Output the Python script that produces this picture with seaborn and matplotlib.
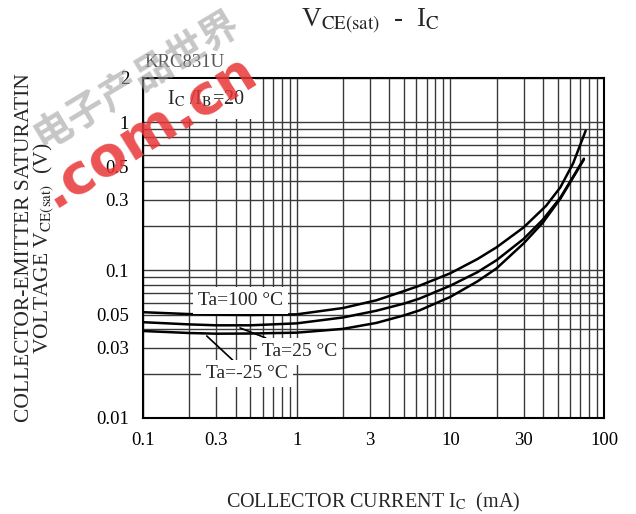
import numpy as np
import pandas as pd
import matplotlib
matplotlib.use("Agg")
import matplotlib.pyplot as plt
import seaborn as sns
from matplotlib.ticker import FixedLocator, FixedFormatter, LogLocator, NullFormatter

# ---- data ----
ic_100 = [0.1, 0.2, 0.3, 0.5, 1, 2, 3.3, 5, 6.3, 10, 15, 20, 30, 42, 52, 63, 76]
vce_100 = [0.052, 0.0505, 0.0500, 0.0498, 0.0503, 0.0555, 0.0626, 0.0723, 0.0786, 0.0954,
           0.119, 0.143, 0.195, 0.273, 0.364, 0.53, 0.88]
ic_25 = [0.1, 0.2, 0.3, 0.5, 1, 2, 3.3, 5, 6.3, 10, 15, 20, 30, 40, 52, 63, 74]
vce_25 = [0.0445, 0.0430, 0.0424, 0.0424, 0.0437, 0.0479, 0.0532, 0.0595, 0.0643, 0.0786,
          0.097, 0.117, 0.163, 0.22, 0.31, 0.43, 0.569]
ic_m25 = [0.1, 0.2, 0.3, 0.5, 1, 2, 3.3, 5, 6.3, 10, 15, 20, 30, 40, 52, 63, 74]
vce_m25 = [0.0388, 0.0376, 0.0372, 0.0373, 0.0378, 0.0401, 0.0440, 0.0495, 0.0535, 0.066,
           0.084, 0.103, 0.152, 0.21, 0.305, 0.425, 0.562]
labels = ["Ta=100 °C", "Ta=25 °C", "Ta=-25 °C"]

x_ticks = [0.1, 0.3, 1, 3, 10, 30, 100]
x_tick_labels = ["0.1", "0.3", "1", "3", "10", "30", "100"]
y_ticks = [0.01, 0.03, 0.05, 0.1, 0.3, 0.5, 1, 2]
y_tick_labels = ["0.01", "0.03", "0.05", "0.1", "0.3", "0.5", "1", "2"]

df = pd.DataFrame({
    "Ic": ic_100 + ic_25 + ic_m25,
    "Vce": vce_100 + vce_25 + vce_m25,
    "Ta": [labels[0]] * len(ic_100) + [labels[1]] * len(ic_25) + [labels[2]] * len(ic_m25),
})

sns.set_style("white")
plt.rcParams["font.family"] = ["Liberation Serif", "DejaVu Serif"]
plt.rcParams["mathtext.fontset"] = "stix"

fig = plt.figure(figsize=(6.36, 5.14), dpi=100)
ax = fig.add_axes([143 / 636, 1 - 418 / 514, 461 / 636, 340 / 514])

# watermark
fig.text(0.215, 0.845, "电子产品世界", family=["Noto Sans CJK SC", "DejaVu Sans"],
         fontsize=28, fontweight="bold", color="#a0a0a0", alpha=0.6, rotation=31,
         ha="center", va="center", zorder=0)
fig.text(0.235, 0.745, ".com.cn", family=["DejaVu Sans"], fontsize=40, fontweight="bold",
         color="#e83535", alpha=0.85, rotation=32, ha="center", va="center", zorder=0)

ax.set_xscale("log")
ax.set_yscale("log")
ax.set_xlim(0.1, 100)
ax.set_ylim(0.01, 2)
ax.patch.set_alpha(0)

sns.lineplot(data=df, x="Ic", y="Vce", hue="Ta", palette=["black"] * 3, sort=False,
             linewidth=1.8, legend=False, ax=ax, zorder=3)

ax.xaxis.set_major_locator(FixedLocator(x_ticks))
ax.xaxis.set_major_formatter(FixedFormatter(x_tick_labels))
ax.yaxis.set_major_locator(FixedLocator(y_ticks))
ax.yaxis.set_major_formatter(FixedFormatter(y_tick_labels))
ax.xaxis.set_minor_locator(LogLocator(base=10, subs=np.arange(1, 10)))
ax.yaxis.set_minor_locator(LogLocator(base=10, subs=np.arange(1, 10)))
ax.xaxis.set_minor_formatter(NullFormatter())
ax.yaxis.set_minor_formatter(NullFormatter())
ax.tick_params(which="both", length=0, labelsize=13.5, pad=10, colors="black")
ax.grid(True, which="both", color="#3a3a3a", linewidth=1.0)
for s in ax.spines.values():
    s.set_visible(True)
    s.set_color("black")
    s.set_linewidth(1.5)

ax.set_xlabel(r"COLLECTOR CURRENT I$_{\mathrm{C}}$  (mA)", fontsize=14.5, labelpad=30)
ax.set_ylabel("COLLECTOR-EMITTER SATURATIN\n" + r"VOLTAGE V$_{\mathrm{CE(sat)}}$  (V)",
              fontsize=15.5, labelpad=29, linespacing=0.85)

fig.text(0.582, 0.958, r"V$_{\mathrm{CE(sat)}}$  -  I$_{\mathrm{C}}$", fontsize=19.5,
         ha="center", va="center")
ax.text(0.003, 1.022, "KRC831U", transform=ax.transAxes, fontsize=13.5, color="#555555",
        ha="left", va="bottom")

box = dict(boxstyle="square,pad=0.25", facecolor="white", edgecolor="none")
ax.text(0.255, 1.44, r"I$_{\mathrm{C}}$ /I$_{\mathrm{B}}$=20", fontsize=14.5, ha="center",
        va="center", bbox=dict(boxstyle="square,pad=0.5", facecolor="white", edgecolor="none"),
        zorder=4)
ax.text(0.43, 0.0623, labels[0], fontsize=14, ha="center", va="center", bbox=box, zorder=4)
ax.annotate(labels[1], xy=(0.428, 0.0407), xytext=(1.05, 0.0283), fontsize=14,
            ha="center", va="center", bbox=box, zorder=4,
            arrowprops=dict(arrowstyle="-", color="black", lw=1.2, shrinkA=0, shrinkB=0))
ax.annotate(labels[2], xy=(0.26, 0.0359), xytext=(0.476, 0.0200), fontsize=14,
            ha="center", va="center", bbox=box, zorder=4,
            arrowprops=dict(arrowstyle="-", color="black", lw=1.2, shrinkA=0, shrinkB=0))

fig.savefig("out.png", dpi=100)
